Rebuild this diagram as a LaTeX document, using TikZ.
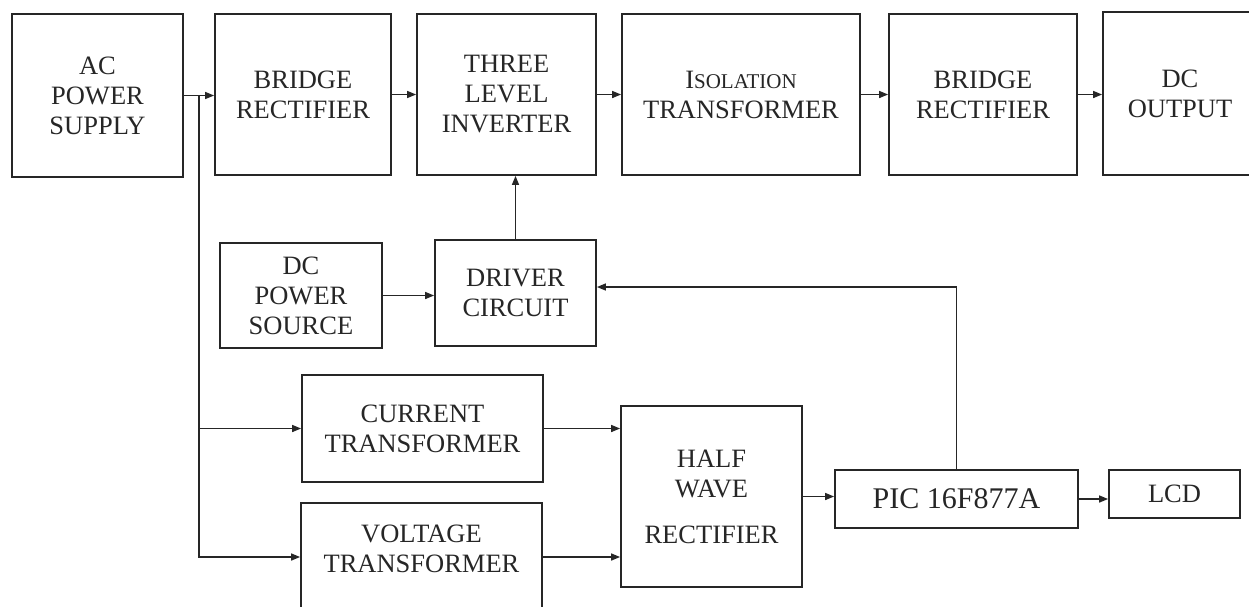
\documentclass[tikz,border=0pt]{standalone}
\usepackage{fontspec}
\setmainfont{Liberation Serif}
\usetikzlibrary{arrows.meta,calc}
\definecolor{ink}{HTML}{262626}
\tikzset{
  blk/.style={draw=ink, line width=1.8pt, inner sep=0pt, align=center, text=ink,
    font=\fontsize{26.5}{30}\selectfont},
  txt/.style={inner sep=0pt, align=center, text=ink, font=\fontsize{26.5}{30}\selectfont},
  conn/.style={draw=ink, line width=1.5pt},
  arr/.style={conn, -{Triangle[length=9pt,width=7pt]}}
}
\begin{document}
\begin{tikzpicture}[x=1pt,y=-1pt]
\useasboundingbox (0,0) rectangle (1249,606);
\fill[white] (0,0) rectangle (1249,606);
\clip (0,0) rectangle (1249,606);
% top row
\node[blk, minimum width=171, minimum height=163] (ac) at (97.5,95.5) {AC\\POWER\\SUPPLY};
\node[blk, minimum width=176, minimum height=161] (br1) at (303,94.5) {BRIDGE\\RECTIFIER};
\node[blk, minimum width=179, minimum height=161] (tli) at (506.5,94.5) {THREE\\LEVEL\\INVERTER};
\node[blk, minimum width=238, minimum height=161] (iso) at (741,94.5) {I{\fontsize{21}{30}\selectfont SOLATION}\\TRANSFORMER};
\node[blk, minimum width=188, minimum height=161] (br2) at (983,94.5) {BRIDGE\\RECTIFIER};
\node[blk, minimum width=154, minimum height=163] (dco) at (1180,93.5) {DC\\OUTPUT};
% middle
\node[blk, minimum width=162, minimum height=105] (dcps) at (301,295.5) {DC\\POWER\\SOURCE};
\node[blk, minimum width=161, minimum height=106] (drv) at (515.5,293) {DRIVER\\CIRCUIT};
% lower
\node[blk, minimum width=241, minimum height=107] (ct) at (422.5,428.5) {CURRENT\\TRANSFORMER};
\node[blk, minimum width=241, minimum height=108] (vt) at (421.5,557) {};
\node[txt] (vtt) at (421.5,549) {VOLTAGE\\TRANSFORMER};
\node[blk, minimum width=181, minimum height=181] (hwr) at (711.5,496.5) {HALF\\WAVE\\[16pt]RECTIFIER};
\node[blk, minimum width=243, minimum height=58, font=\fontsize{30}{34}\selectfont] (pic) at (956.5,499) {PIC 16F877A};
\node[blk, minimum width=131, minimum height=48] (lcd) at (1174.5,494) {LCD};
% connectors
\coordinate (j) at ($(ac.east)+(15,0)$);
\draw[arr] (ac.east) -- (ac.east -| br1.west);
\draw[arr] (br1.east) -- (tli.west);
\draw[arr] (tli.east) -- (iso.west);
\draw[arr] (iso.east) -- (br2.west);
\draw[arr] (br2.east) -- (br2.east -| dco.west);
\draw[arr] (j) |- (vt.west);
\draw[arr] (j |- ct.west) -- (ct.west);
\draw[arr] (dcps.east) -- (dcps.east -| drv.west);
\draw[arr] (drv.north) -- (drv.north |- tli.south);
\draw[arr] (ct.east) -- (ct.east -| hwr.west);
\draw[arr] (vt.east) -- (vt.east -| hwr.west);
\draw[arr] (hwr.east) -- (hwr.east -| pic.west);
\draw[arr] (pic.east) -- (pic.east -| lcd.west);
\draw[arr] (pic.north) |- ([yshift=6pt]drv.east);
\end{tikzpicture}
\end{document}
